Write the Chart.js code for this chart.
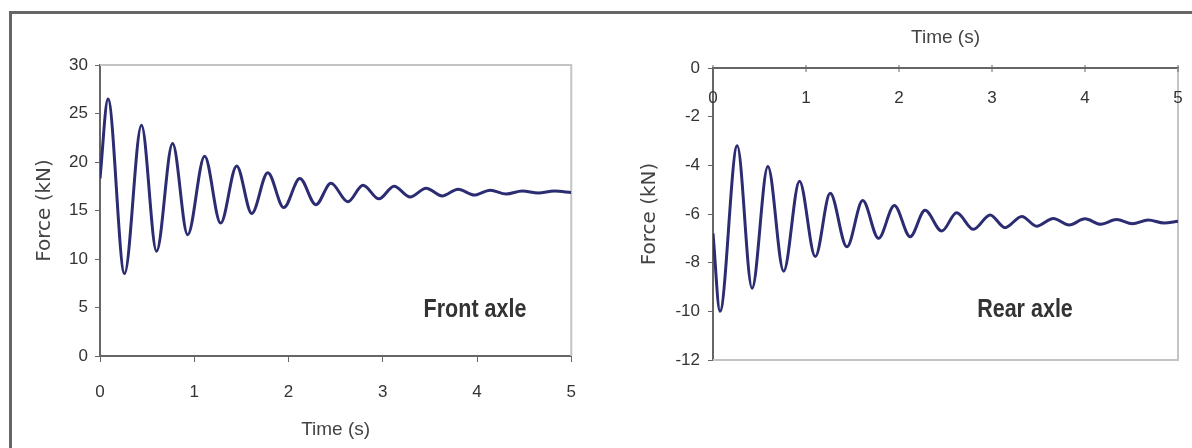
<!DOCTYPE html>
<html lang="en">
<head>
  <meta charset="UTF-8">
  <title>Axle force vs time</title>
  <style>
    body {
      margin: 0;
      background: #fff;
    }

    #wrap {
      position: relative;
      width: 1192px;
      height: 448px;
      overflow: hidden;
    }

    .frame {
      position: absolute;
      left: 9px;
      top: 11px;
      width: 1220px;
      height: 480px;
      border-left: 3px solid #666;
      border-top: 3px solid #666;
    }

    .box {
      position: absolute;
      top: 0;
      width: 596px;
      height: 448px;
    }

    .tag {
      position: absolute;
      font: bold 25px "Liberation Sans", Arial, sans-serif;
      color: #333;
      transform: translate(-50%, -50%) scale(0.86, 1.05);
      white-space: nowrap;
    }
  </style>
</head>
<body>
  <div id="wrap">
    <div class="frame"></div>
    <div class="box" style="left:0"><canvas id="front" width="596" height="448"></canvas></div>
    <div class="box" style="left:596px"><canvas id="rear" width="596" height="448"></canvas></div>
    <div class="tag" style="left:475px; top:308px">Front axle</div>
    <div class="tag" style="left:1025px; top:308px">Rear axle</div>
  </div>

  <script src="https://cdn.jsdelivr.net/npm/chart.js"></script>
  <script>
    // values (peaks / troughs of the response)
    const frontTime  = [0, 0.085, 0.26, 0.44, 0.60, 0.77, 0.93, 1.11, 1.28, 1.45, 1.61, 1.78, 1.95,
                        2.12, 2.29, 2.45, 2.63, 2.79, 2.96, 3.12, 3.29, 3.46, 3.63, 3.80, 3.97,
                        4.14, 4.31, 4.48, 4.65, 4.82, 5.0];
    const frontForce = [18.3, 26.5, 8.5, 23.8, 10.8, 21.9, 12.5, 20.6, 13.7, 19.6, 14.7, 18.9, 15.3,
                        18.3, 15.6, 17.8, 15.9, 17.6, 16.2, 17.5, 16.4, 17.3, 16.5, 17.2, 16.6,
                        17.1, 16.7, 17.0, 16.8, 17.0, 16.85];

    const rearTime  = [0, 0.075, 0.26, 0.42, 0.59, 0.76, 0.93, 1.10, 1.26, 1.44, 1.61, 1.78, 1.95,
                       2.12, 2.28, 2.46, 2.62, 2.80, 2.98, 3.14, 3.32, 3.48, 3.66, 3.83, 4.00,
                       4.17, 4.34, 4.51, 4.68, 4.85, 5.0];
    const rearForce = [-6.8, -10.0, -3.2, -9.05, -4.05, -8.35, -4.65, -7.75, -5.15, -7.35, -5.45, -7.0, -5.65,
                       -6.93, -5.85, -6.7, -5.95, -6.63, -6.04, -6.56, -6.1, -6.5, -6.18, -6.45, -6.2,
                       -6.42, -6.23, -6.4, -6.25, -6.37, -6.3];

    const timeTicks       = [0, 1, 2, 3, 4, 5];
    const frontForceTicks = [0, 5, 10, 15, 20, 25, 30];
    const rearForceTicks  = [-12, -10, -8, -6, -4, -2, 0];

    const tickFont   = { family: '"Liberation Sans", Arial, sans-serif', size: 17 };
    const titleFont  = { family: '"Liberation Sans", Arial, sans-serif', size: 19 };
    const yTitleFont = { family: '"DejaVu Sans", sans-serif', size: 20 };

    // light grey frame on the two sides that have no axis
    const framePlugin = {
      id: 'frame',
      beforeDatasetsDraw(chart, args, opts) {
        const a = chart.chartArea;
        const ctx = chart.ctx;
        ctx.save();
        ctx.strokeStyle = '#c4c4c4';
        ctx.lineWidth = 2;
        ctx.beginPath();
        if (opts.side === 'topright') {
          ctx.moveTo(a.left, a.top);
          ctx.lineTo(a.right, a.top);
          ctx.lineTo(a.right, a.bottom);
        } else {
          ctx.moveTo(a.right, a.top);
          ctx.lineTo(a.right, a.bottom);
          ctx.lineTo(a.left, a.bottom);
        }
        ctx.stroke();
        ctx.restore();
      }
    };

    // the rear chart has its time axis on top with the numbers under the line
    const innerTopLabels = {
      id: 'innerTopLabels',
      afterDraw(chart) {
        const s = chart.scales.x;
        const ctx = chart.ctx;
        ctx.save();
        ctx.font = tickFont.size + 'px ' + tickFont.family;
        ctx.fillStyle = '#333';
        ctx.strokeStyle = '#666';
        ctx.lineWidth = 1;
        ctx.textAlign = 'center';
        ctx.textBaseline = 'middle';
        s.ticks.forEach(t => {
          const px = s.getPixelForValue(t.value);
          ctx.beginPath();
          ctx.moveTo(px, s.bottom - 3);
          ctx.lineTo(px, s.bottom + 4);
          ctx.stroke();
          ctx.fillText(String(t.value), px, s.bottom + 30);
        });
        ctx.restore();
      }
    };

    const setTicks = list => scale => { scale.ticks = list.map(v => ({ value: v })); };

    function points(xs, ys) {
      return xs.map((x, i) => ({ x: x, y: ys[i] }));
    }

    function lineDataset(xs, ys) {
      return {
        data: points(xs, ys),
        borderColor: '#2c2c72',
        borderWidth: 3,
        pointRadius: 0,
        cubicInterpolationMode: 'monotone',
        fill: false
      };
    }

    Chart.defaults.color = '#333';
    Chart.defaults.animation = false;

    new Chart(document.getElementById('front'), {
      type: 'line',
      data: { datasets: [lineDataset(frontTime, frontForce)] },
      plugins: [framePlugin],
      options: {
        responsive: false,
        layout: { padding: { top: 65, right: 21, bottom: 5, left: 0 } },
        plugins: {
          legend: { display: false },
          tooltip: { enabled: false },
          frame: { side: 'topright' }
        },
        scales: {
          x: {
            type: 'linear',
            min: 0,
            max: 5,
            afterBuildTicks: setTicks(timeTicks),
            afterFit: s => { s.height = 87; },
            grid: { drawOnChartArea: false, tickLength: 6, color: '#666' },
            border: { color: '#666', width: 2 },
            ticks: { font: tickFont, padding: 20, color: '#333' },
            title: { display: true, text: 'Time (s)', font: titleFont, color: '#444', padding: { top: 0, bottom: 2 } }
          },
          y: {
            min: 0,
            max: 30,
            afterBuildTicks: setTicks(frontForceTicks),
            afterFit: s => { s.width = 100; },
            grid: { drawOnChartArea: false, tickLength: 5, color: '#666' },
            border: { color: '#666', width: 2 },
            ticks: { font: tickFont, padding: 7, color: '#333' },
            title: { display: true, text: 'Force (kN)', font: yTitleFont, color: '#444', padding: { top: 33, bottom: 0 } }
          }
        }
      }
    });

    new Chart(document.getElementById('rear'), {
      type: 'line',
      data: { datasets: [lineDataset(rearTime, rearForce)] },
      plugins: [framePlugin, innerTopLabels],
      options: {
        responsive: false,
        layout: { padding: { top: 10, right: 14, bottom: 88, left: 0 } },
        plugins: {
          legend: { display: false },
          tooltip: { enabled: false },
          frame: { side: 'rightbottom' }
        },
        scales: {
          x: {
            type: 'linear',
            position: 'top',
            min: 0,
            max: 5,
            afterBuildTicks: setTicks(timeTicks),
            afterFit: s => { s.height = 58; },
            grid: { drawOnChartArea: false, drawTicks: false, color: '#666' },
            border: { color: '#666', width: 2 },
            ticks: { display: false },
            title: { display: true, text: 'Time (s)', font: titleFont, color: '#444', padding: { top: 16, bottom: 0 } }
          },
          y: {
            min: -12,
            max: 0,
            afterBuildTicks: setTicks(rearForceTicks),
            afterFit: s => { s.width = 117; },
            grid: { drawOnChartArea: false, tickLength: 5, color: '#666' },
            border: { color: '#666', width: 2 },
            ticks: { font: tickFont, padding: 8, color: '#333' },
            title: { display: true, text: 'Force (kN)', font: yTitleFont, color: '#444', padding: { top: 42, bottom: 0 } }
          }
        }
      }
    });
  </script>
</body>
</html>
